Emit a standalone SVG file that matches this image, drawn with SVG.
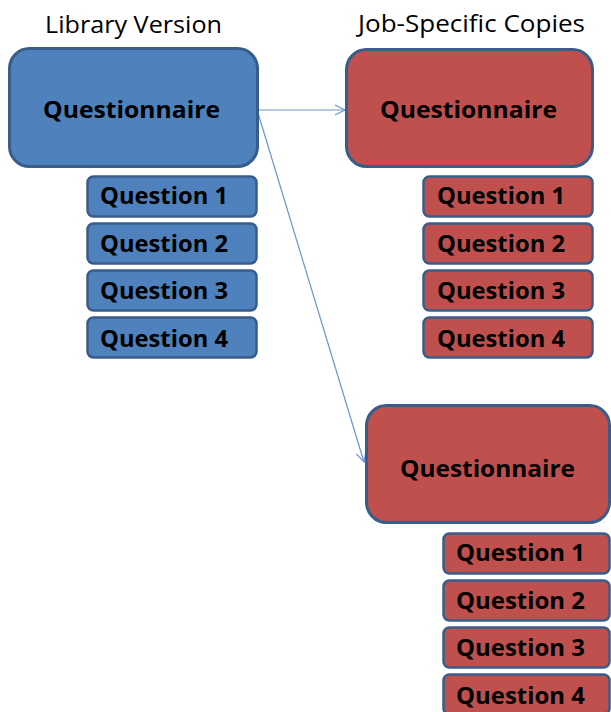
<svg xmlns="http://www.w3.org/2000/svg" width="611" height="712" viewBox="0 0 611 712">
<defs>
<style>
.title{font-family:"Open Sans","Liberation Sans",sans-serif;font-size:24px;fill:#000}
.big{font-family:"Open Sans","Liberation Sans",sans-serif;font-size:24px;font-weight:bold;fill:#000}
.q{font-family:"Open Sans","Liberation Sans",sans-serif;font-size:23.5px;font-weight:bold;fill:#000}
.blue{fill:#4f81bd;stroke:#385d8a}
.red{fill:#c0504d;stroke:#385d8a}
.bigbox{stroke-width:3}
.qbox{stroke-width:2.5}
.conn{stroke:#6a95cc;stroke-width:1.2;fill:none}
</style>
<marker id="arr" markerUnits="userSpaceOnUse" markerWidth="14" markerHeight="14" refX="11" refY="6" orient="auto">
<path d="M1,1 L11,6 L1,11" fill="none" stroke="#6a95cc" stroke-width="1.2"/>
</marker>
</defs>
<rect width="611" height="712" fill="#fff"/>
<text class="title" x="45" y="33" textLength="177" lengthAdjust="spacingAndGlyphs">Library Version</text>
<text class="title" x="358" y="32" textLength="227" lengthAdjust="spacingAndGlyphs">Job-Specific Copies</text>

<g id="connectors">
<line class="conn" x1="258" y1="110" x2="345" y2="110" marker-end="url(#arr)"/>
<line class="conn" x1="258" y1="113" x2="364" y2="462" marker-end="url(#arr)"/>
</g>

<g id="lib-questionnaire">
<rect class="blue bigbox" x="9.5" y="48.5" width="248" height="118" rx="20"/>
<text class="big" x="43" y="118" textLength="177" lengthAdjust="spacingAndGlyphs">Questionnaire</text>
</g>
<g id="lib-q1"><rect class="blue qbox" x="87.5" y="176.5" width="169" height="40" rx="6"/><text class="q" x="100" y="204" textLength="128" lengthAdjust="spacingAndGlyphs">Question 1</text></g>
<g id="lib-q2"><rect class="blue qbox" x="87.5" y="223.5" width="169" height="40" rx="6"/><text class="q" x="100" y="252" textLength="128" lengthAdjust="spacingAndGlyphs">Question 2</text></g>
<g id="lib-q3"><rect class="blue qbox" x="87.5" y="270.5" width="169" height="40" rx="6"/><text class="q" x="100" y="299" textLength="128" lengthAdjust="spacingAndGlyphs">Question 3</text></g>
<g id="lib-q4"><rect class="blue qbox" x="87.5" y="317.5" width="169" height="40" rx="6"/><text class="q" x="100" y="347" textLength="128" lengthAdjust="spacingAndGlyphs">Question 4</text></g>

<g id="job1-questionnaire">
<rect class="red bigbox" x="346.5" y="49.5" width="246" height="117" rx="20"/>
<text class="big" x="380" y="118" textLength="177" lengthAdjust="spacingAndGlyphs">Questionnaire</text>
</g>
<g id="job1-q1"><rect class="red qbox" x="423.5" y="176.5" width="169" height="40" rx="6"/><text class="q" x="437" y="204" textLength="128" lengthAdjust="spacingAndGlyphs">Question 1</text></g>
<g id="job1-q2"><rect class="red qbox" x="423.5" y="223.5" width="169" height="40" rx="6"/><text class="q" x="437" y="252" textLength="128" lengthAdjust="spacingAndGlyphs">Question 2</text></g>
<g id="job1-q3"><rect class="red qbox" x="423.5" y="270.5" width="169" height="40" rx="6"/><text class="q" x="437" y="299" textLength="128" lengthAdjust="spacingAndGlyphs">Question 3</text></g>
<g id="job1-q4"><rect class="red qbox" x="423.5" y="317.5" width="169" height="40" rx="6"/><text class="q" x="437" y="347" textLength="128" lengthAdjust="spacingAndGlyphs">Question 4</text></g>

<g id="job2-questionnaire">
<rect class="red bigbox" x="366.5" y="405.5" width="243" height="117" rx="20"/>
<text class="big" x="400" y="477" textLength="175" lengthAdjust="spacingAndGlyphs">Questionnaire</text>
</g>
<g id="job2-q1"><rect class="red qbox" x="443.5" y="533.5" width="166" height="40" rx="6"/><text class="q" x="456" y="561" textLength="129" lengthAdjust="spacingAndGlyphs">Question 1</text></g>
<g id="job2-q2"><rect class="red qbox" x="443.5" y="580.5" width="166" height="40" rx="6"/><text class="q" x="456" y="609" textLength="129" lengthAdjust="spacingAndGlyphs">Question 2</text></g>
<g id="job2-q3"><rect class="red qbox" x="443.5" y="627.5" width="166" height="40" rx="6"/><text class="q" x="456" y="656" textLength="129" lengthAdjust="spacingAndGlyphs">Question 3</text></g>
<g id="job2-q4"><rect class="red qbox" x="443.5" y="674.5" width="166" height="40" rx="6"/><text class="q" x="456" y="704" textLength="129" lengthAdjust="spacingAndGlyphs">Question 4</text></g>
</svg>
